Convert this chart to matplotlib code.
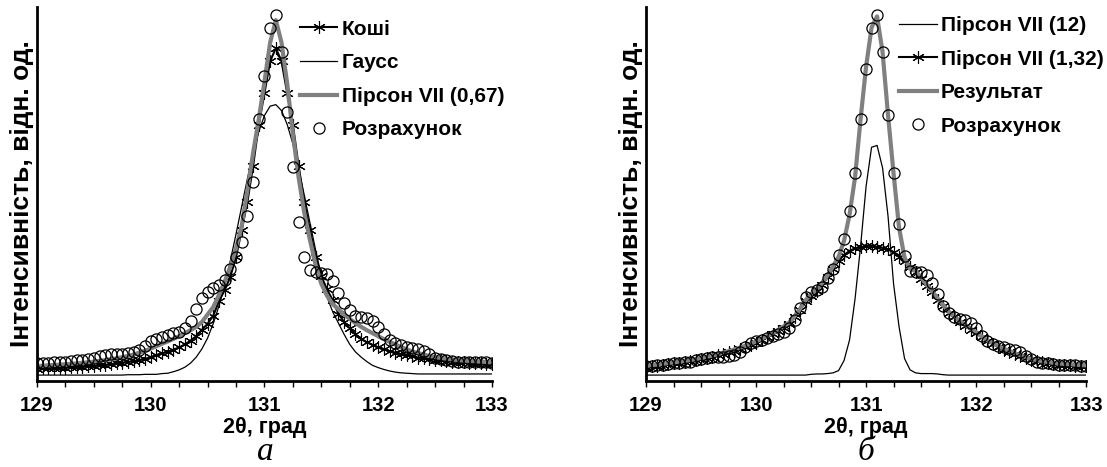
import matplotlib
matplotlib.use("Agg")
import matplotlib.pyplot as plt
from matplotlib.ticker import MultipleLocator, NullLocator

plt.rcParams['font.family'] = ['Liberation Sans', 'DejaVu Sans']
plt.rcParams['font.weight'] = 'bold'

# 2θ scan positions, degrees
two_theta = [
    129.00, 129.05, 129.10, 129.15, 129.20, 129.25, 129.30, 129.35, 129.40, 129.45,
    129.50, 129.55, 129.60, 129.65, 129.70, 129.75, 129.80, 129.85, 129.90, 129.95,
    130.00, 130.05, 130.10, 130.15, 130.20, 130.25, 130.30, 130.35, 130.40, 130.45,
    130.50, 130.55, 130.60, 130.65, 130.70, 130.75, 130.80, 130.85, 130.90, 130.95,
    131.00, 131.05, 131.10, 131.15, 131.20, 131.25, 131.30, 131.35, 131.40, 131.45,
    131.50, 131.55, 131.60, 131.65, 131.70, 131.75, 131.80, 131.85, 131.90, 131.95,
    132.00, 132.05, 132.10, 132.15, 132.20, 132.25, 132.30, 132.35, 132.40, 132.45,
    132.50, 132.55, 132.60, 132.65, 132.70, 132.75, 132.80, 132.85, 132.90, 132.95,
    133.00]

# ---- panel а ----
calc_a = [
    0.047, 0.048, 0.049, 0.050, 0.051, 0.052, 0.053, 0.055, 0.057, 0.060,
    0.063, 0.067, 0.071, 0.072, 0.072, 0.073, 0.074, 0.077, 0.082, 0.095,
    0.108, 0.112, 0.118, 0.124, 0.128, 0.130, 0.141, 0.161, 0.192, 0.222,
    0.238, 0.250, 0.256, 0.270, 0.300, 0.333, 0.372, 0.440, 0.533, 0.700,
    0.815, 0.943, 0.978, 0.880, 0.720, 0.572, 0.426, 0.333, 0.298, 0.292,
    0.290, 0.287, 0.267, 0.236, 0.210, 0.189, 0.175, 0.170, 0.168, 0.160,
    0.144, 0.126, 0.110, 0.102, 0.096, 0.092, 0.089, 0.086, 0.081, 0.072,
    0.063, 0.058, 0.056, 0.054, 0.052, 0.052, 0.051, 0.051, 0.050, 0.050,
    0.049]

cauchy_a = [
    0.033, 0.034, 0.034, 0.035, 0.035, 0.036, 0.037, 0.037, 0.038, 0.039,
    0.040, 0.042, 0.043, 0.045, 0.047, 0.049, 0.051, 0.053, 0.056, 0.059,
    0.064, 0.070, 0.074, 0.079, 0.084, 0.090, 0.098, 0.108, 0.120, 0.137,
    0.153, 0.175, 0.214, 0.243, 0.279, 0.332, 0.404, 0.479, 0.575, 0.685,
    0.770, 0.855, 0.890, 0.855, 0.770, 0.685, 0.575, 0.479, 0.404, 0.332,
    0.280, 0.245, 0.216, 0.180, 0.158, 0.141, 0.125, 0.113, 0.104, 0.097,
    0.090, 0.085, 0.080, 0.076, 0.072, 0.069, 0.066, 0.063, 0.061, 0.059,
    0.057, 0.055, 0.054, 0.052, 0.051, 0.050, 0.049, 0.048, 0.047, 0.046,
    0.045]

gauss_a = [
    0.016, 0.016, 0.016, 0.016, 0.016, 0.016, 0.016, 0.016, 0.016, 0.016,
    0.016, 0.016, 0.016, 0.016, 0.016, 0.016, 0.017, 0.017, 0.017, 0.018,
    0.018, 0.018, 0.020, 0.021, 0.025, 0.030, 0.037, 0.048, 0.064, 0.086,
    0.115, 0.154, 0.201, 0.257, 0.322, 0.393, 0.467, 0.541, 0.609, 0.667,
    0.710, 0.735, 0.739, 0.723, 0.686, 0.634, 0.569, 0.497, 0.423, 0.350,
    0.282, 0.225, 0.185, 0.155, 0.125, 0.098, 0.078, 0.064, 0.052, 0.042,
    0.036, 0.031, 0.027, 0.024, 0.022, 0.021, 0.020, 0.019, 0.019, 0.019,
    0.019, 0.019, 0.019, 0.019, 0.019, 0.019, 0.019, 0.019, 0.019, 0.019,
    0.019]

pearson067_a = [
    0.040, 0.041, 0.042, 0.043, 0.044, 0.045, 0.046, 0.047, 0.049, 0.050,
    0.052, 0.054, 0.056, 0.058, 0.061, 0.064, 0.067, 0.071, 0.076, 0.081,
    0.087, 0.093, 0.100, 0.106, 0.113, 0.120, 0.128, 0.136, 0.145, 0.158,
    0.178, 0.198, 0.230, 0.265, 0.306, 0.355, 0.415, 0.510, 0.610, 0.700,
    0.800, 0.905, 0.965, 0.905, 0.795, 0.660, 0.545, 0.450, 0.377, 0.310,
    0.260, 0.228, 0.206, 0.192, 0.178, 0.166, 0.155, 0.145, 0.136, 0.128,
    0.120, 0.112, 0.105, 0.098, 0.091, 0.085, 0.079, 0.075, 0.071, 0.067,
    0.064, 0.062, 0.060, 0.058, 0.056, 0.055, 0.054, 0.053, 0.052, 0.051,
    0.050]

# ---- panel б ----
calc_b = [
    0.040, 0.041, 0.043, 0.044, 0.045, 0.047, 0.048, 0.050, 0.052, 0.055,
    0.058, 0.061, 0.064, 0.065, 0.065, 0.066, 0.071, 0.079, 0.090, 0.101,
    0.107, 0.111, 0.116, 0.121, 0.125, 0.132, 0.142, 0.163, 0.195, 0.224,
    0.238, 0.244, 0.252, 0.275, 0.300, 0.336, 0.380, 0.455, 0.555, 0.700,
    0.835, 0.945, 0.978, 0.880, 0.710, 0.555, 0.420, 0.335, 0.294, 0.291,
    0.291, 0.284, 0.262, 0.233, 0.200, 0.181, 0.172, 0.167, 0.163, 0.155,
    0.142, 0.121, 0.106, 0.098, 0.094, 0.091, 0.087, 0.083, 0.077, 0.068,
    0.058, 0.052, 0.048, 0.047, 0.045, 0.044, 0.043, 0.042, 0.042, 0.041,
    0.041]

pearson12_b = [
    0.016, 0.016, 0.016, 0.016, 0.016, 0.016, 0.016, 0.016, 0.016, 0.016,
    0.016, 0.016, 0.016, 0.016, 0.016, 0.016, 0.016, 0.016, 0.016, 0.016,
    0.016, 0.016, 0.016, 0.016, 0.016, 0.016, 0.016, 0.016, 0.016, 0.016,
    0.018, 0.019, 0.019, 0.020, 0.022, 0.028, 0.055, 0.110, 0.220, 0.360,
    0.520, 0.625, 0.630, 0.570, 0.440, 0.260, 0.145, 0.060, 0.030, 0.022,
    0.020, 0.020, 0.020, 0.019, 0.017, 0.016, 0.016, 0.016, 0.016, 0.016,
    0.016, 0.016, 0.016, 0.016, 0.016, 0.016, 0.016, 0.016, 0.016, 0.016,
    0.016, 0.016, 0.016, 0.016, 0.016, 0.016, 0.016, 0.016, 0.016, 0.016,
    0.016]

pearson132_b = [
    0.038, 0.040, 0.041, 0.043, 0.045, 0.047, 0.049, 0.051, 0.053, 0.056,
    0.059, 0.062, 0.065, 0.069, 0.073, 0.077, 0.081, 0.086, 0.091, 0.097,
    0.103, 0.110, 0.117, 0.125, 0.133, 0.143, 0.153, 0.170, 0.190, 0.213,
    0.228, 0.240, 0.257, 0.277, 0.300, 0.322, 0.337, 0.348, 0.355, 0.358,
    0.360, 0.360, 0.359, 0.356, 0.352, 0.345, 0.333, 0.321, 0.306, 0.292,
    0.273, 0.255, 0.238, 0.218, 0.200, 0.183, 0.170, 0.158, 0.148, 0.137,
    0.128, 0.117, 0.106, 0.099, 0.091, 0.084, 0.078, 0.072, 0.066, 0.061,
    0.056, 0.053, 0.050, 0.048, 0.046, 0.044, 0.043, 0.042, 0.041, 0.040,
    0.039]

result_b = [
    0.041, 0.043, 0.044, 0.046, 0.048, 0.050, 0.052, 0.054, 0.056, 0.059,
    0.062, 0.065, 0.068, 0.072, 0.076, 0.080, 0.084, 0.089, 0.094, 0.100,
    0.106, 0.113, 0.120, 0.128, 0.136, 0.146, 0.156, 0.173, 0.193, 0.216,
    0.232, 0.245, 0.262, 0.283, 0.307, 0.332, 0.375, 0.445, 0.545, 0.700,
    0.840, 0.945, 0.975, 0.880, 0.710, 0.555, 0.410, 0.330, 0.300, 0.294,
    0.277, 0.258, 0.241, 0.221, 0.203, 0.186, 0.173, 0.161, 0.151, 0.140,
    0.131, 0.120, 0.109, 0.102, 0.094, 0.087, 0.081, 0.075, 0.069, 0.064,
    0.059, 0.056, 0.053, 0.051, 0.049, 0.047, 0.046, 0.045, 0.044, 0.043,
    0.042]

star = (6, 2, 0)
grey = '#808080'

fig = plt.figure(figsize=(11.07, 4.67), dpi=100)
ax1 = fig.add_axes([0.0334, 0.184, 0.411, 0.801])
ax2 = fig.add_axes([0.5836, 0.184, 0.3975, 0.801])


def style(ax):
    ax.set_xlim(129, 133)
    ax.set_ylim(0, 1)
    for s in ('top', 'right'):
        ax.spines[s].set_visible(False)
    for s in ('left', 'bottom'):
        ax.spines[s].set_linewidth(2)
    ax.yaxis.set_major_locator(NullLocator())
    ax.xaxis.set_major_locator(MultipleLocator(1))
    ax.xaxis.set_minor_locator(MultipleLocator(0.25))
    ax.tick_params(axis='x', which='both', direction='out', length=4, width=1, pad=7,
                   labelsize=14.5)
    ax.set_xlabel('2θ, град', fontsize=15.5, fontweight='bold', labelpad=1)
    ax.set_ylabel('Інтенсивність, відн. од.', fontsize=19, fontweight='bold', labelpad=2)
    ax.patch.set_alpha(0)


leg_kw = dict(loc='upper left', frameon=False, prop={'size': 15, 'weight': 'bold'},
              handlelength=1.8, handletextpad=0.2, labelspacing=0.7, borderpad=0,
              borderaxespad=0)

# panel а
ax1.plot(two_theta, cauchy_a, color='black', lw=1.5, marker=star, ms=9, mew=0.8,
         label='Коші')
ax1.plot(two_theta, gauss_a, color='black', lw=0.9, label='Гаусс')
ax1.plot(two_theta, pearson067_a, color=grey, lw=3, label='Пірсон VII (0,67)')
ax1.plot(two_theta, calc_a, ls='none', marker='o', ms=8, mfc='none', mec='black',
         mew=0.9, label='Розрахунок')
style(ax1)
ax1.legend(bbox_to_anchor=(0.578, 0.966), **leg_kw)

# panel б
ax2.plot(two_theta, pearson12_b, color='black', lw=0.9, label='Пірсон VII (12)')
ax2.plot(two_theta, pearson132_b, color='black', lw=1.5, marker=star, ms=9, mew=0.8,
         label='Пірсон VII (1,32)')
ax2.plot(two_theta, result_b, color=grey, lw=3, label='Результат')
ax2.plot(two_theta, calc_b, ls='none', marker='o', ms=8, mfc='none', mec='black',
         mew=0.9, label='Розрахунок')
style(ax2)
ax2.legend(bbox_to_anchor=(0.575, 0.976), **leg_kw)

fig.text(265 / 1107, 1 - 452 / 467, 'а', ha='center', va='center', fontsize=24,
         family='Liberation Serif', style='italic', weight='normal')
fig.text(866 / 1107, 1 - 452 / 467, 'б', ha='center', va='center', fontsize=24,
         family='Liberation Serif', style='italic', weight='normal')

fig.savefig('out.png', dpi=100)
